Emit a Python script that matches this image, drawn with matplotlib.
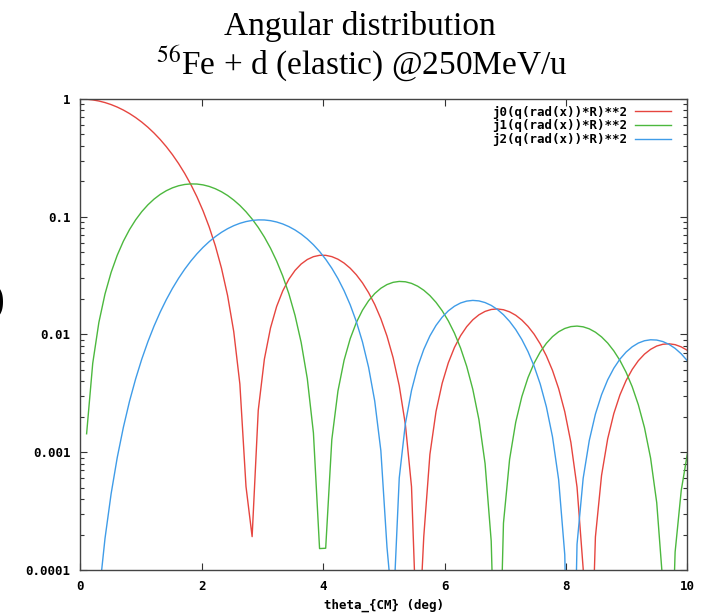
import numpy as np
import matplotlib
matplotlib.use("Agg")
import matplotlib.pyplot as plt
from matplotlib.ticker import LogLocator, NullFormatter, FixedLocator

# --- data (gnuplot, 100 samples over 0..10 deg) ---
theta = np.linspace(0, 10, 100)   # theta_CM (deg), sample grid

j0_sq = [1.0, 0.9957, 0.9829, 0.9618, 0.9328, 0.8967, 0.8540, 0.8057, 0.7526, 0.6958,
         0.6365, 0.5755, 0.5141, 0.4533, 0.3939, 0.3370, 0.2833, 0.2335, 0.1881, 0.1476,
         0.1121, 0.0818, 0.0567, 0.0366, 0.0214, 0.0106, 0.0038, 0.000512, 0.000192, 0.00227,
         0.00618, 0.01137, 0.01730, 0.02348, 0.02951, 0.03501, 0.03969, 0.04333, 0.04581, 0.04704,
         0.04704, 0.04585, 0.04360, 0.04044, 0.03655, 0.03215, 0.02745, 0.02266, 0.01799, 0.01361,
         0.00969, 0.00635, 0.00367, 0.00172, 0.00051, 1.65e-5, 0.000192, 0.000958, 0.00222, 0.00385,
         0.00574, 0.00775, 0.00976, 0.01165, 0.01333, 0.01470, 0.01571, 0.01631, 0.01648, 0.01623,
         0.01557, 0.01457, 0.01326, 0.01173, 0.01006, 0.00831, 0.00658, 0.00495, 0.00347, 0.00221,
         0.00121, 0.000506, 0.000103, 3.95e-6, 0.000191, 0.000636, 0.00130, 0.00213, 0.00307, 0.00406,
         0.00505, 0.00599, 0.00681, 0.00748, 0.00798, 0.00826, 0.00834, 0.00820, 0.00785, 0.00733]

j1_sq = [0.0, 0.001435, 0.005694, 0.01265, 0.02208, 0.03370, 0.04714, 0.06201, 0.07784, 0.09416,
         0.1105, 0.1263, 0.1412, 0.1547, 0.1664, 0.1760, 0.1833, 0.1880, 0.1901, 0.1896,
         0.1865, 0.1809, 0.1730, 0.1631, 0.1516, 0.1386, 0.1248, 0.1103, 0.09563, 0.08114,
         0.06718, 0.05405, 0.04203, 0.03134, 0.02213, 0.01452, 0.00856, 0.00422, 0.00146, 0.000152,
         0.000153, 0.00128, 0.00331, 0.00604, 0.00922, 0.01264, 0.01608, 0.01935, 0.02227, 0.02470,
         0.02655, 0.02774, 0.02823, 0.02804, 0.02718, 0.02573, 0.02377, 0.02140, 0.01874, 0.01592,
         0.01306, 0.01028, 0.00768, 0.00537, 0.00342, 0.00189, 0.000801, 0.000176, 2.2e-6, 0.000250,
         0.000871, 0.00180, 0.00297, 0.00430, 0.00571, 0.00711, 0.00842, 0.00959, 0.01055, 0.01125,
         0.01167, 0.01179, 0.01162, 0.01117, 0.01046, 0.00954, 0.00846, 0.00726, 0.00602, 0.00478,
         0.00360, 0.00253, 0.00162, 0.000892, 0.000373, 7.68e-5, 2.9e-6, 0.000142, 0.000474, 0.000970]

j2_sq = [0.0, 7.4e-7, 1.18e-5, 5.93e-5, 0.000185, 0.000444, 0.000903, 0.00163, 0.00271, 0.00420,
         0.00618, 0.00869, 0.01179, 0.01548, 0.01976, 0.02462, 0.03000, 0.03584, 0.04203, 0.04846,
         0.05500, 0.06150, 0.06780, 0.07375, 0.07919, 0.08397, 0.08795, 0.09101, 0.09307, 0.09404,
         0.09390, 0.09263, 0.09026, 0.08684, 0.08245, 0.07722, 0.07127, 0.06476, 0.05785, 0.05073,
         0.04356, 0.03654, 0.02982, 0.02355, 0.01786, 0.01287, 0.00865, 0.00526, 0.00272, 0.00103,
         0.000156, 4.15e-5, 0.000605, 0.00175, 0.00335, 0.00531, 0.00747, 0.00973, 0.01195, 0.01403,
         0.01587, 0.01738, 0.01852, 0.01922, 0.01948, 0.01929, 0.01867, 0.01767, 0.01633, 0.01472,
         0.01292, 0.01101, 0.00906, 0.00716, 0.00538, 0.00379, 0.00243, 0.00135, 0.000585, 0.000135,
         6.1e-7, 0.000165, 0.000600, 0.00126, 0.00211, 0.00308, 0.00412, 0.00517, 0.00618, 0.00709,
         0.00786, 0.00846, 0.00885, 0.00902, 0.00897, 0.00871, 0.00825, 0.00762, 0.00685, 0.00598]

labels = ["j0(q(rad(x))*R)**2", "j1(q(rad(x))*R)**2", "j2(q(rad(x))*R)**2"]
colors = ["#e6453f", "#4cb83e", "#3f9ce8"]

x_ticks = [0, 2, 4, 6, 8, 10]
y_ticks = [0.0001, 0.001, 0.01, 0.1, 1]
y_ticklabels = ["0.0001", "0.001", "0.01", "0.1", "1"]

# --- figure ---
plt.rcParams["mathtext.fontset"] = "stix"
mono = {"family": "DejaVu Sans Mono", "weight": "bold", "size": 9}

fig = plt.figure(figsize=(7.09, 6.15), dpi=100)
ax = fig.add_axes([0.1135, 0.0732, 0.856, 0.7658])

for y, lab, col in zip([j0_sq, j1_sq, j2_sq], labels, colors):
    yy = np.where(np.asarray(y) > 0, y, np.nan)
    ax.plot(theta, yy, color=col, lw=1.0, label=lab)

ax.set_yscale("log")
ax.set_xlim(0, 10)
ax.set_ylim(0.0001, 1)

ax.xaxis.set_major_locator(FixedLocator(x_ticks))
ax.set_xticklabels([str(t) for t in x_ticks], fontdict=mono)
ax.yaxis.set_major_locator(FixedLocator(y_ticks))
ax.set_yticklabels(y_ticklabels, fontdict=mono)
ax.yaxis.set_minor_locator(LogLocator(base=10, subs=np.arange(2, 10)))
ax.yaxis.set_minor_formatter(NullFormatter())

ax.tick_params(which="both", direction="in", top=True, right=True, color="#333333", width=0.8)
ax.tick_params(which="major", length=5, pad=7)
ax.tick_params(which="minor", length=3)
for sp in ax.spines.values():
    sp.set_color("#444444")
    sp.set_linewidth(1.0)

ax.set_xlabel("theta_{CM} (deg)", fontdict=mono, labelpad=4)

leg = ax.legend(loc="upper right", bbox_to_anchor=(0.985, 1.002), frameon=False,
                markerfirst=False, prop=mono, handlelength=2.9, handletextpad=0.6,
                labelspacing=0.06, borderaxespad=0.2)

# title (two lines, Times-like)
fig.text(0.508, 0.957, "Angular distribution", ha="center", va="center",
         family="Liberation Serif", fontsize=24)
fig.text(0.51, 0.896, r"$^{56}$Fe + d (elastic) @250MeV/u", ha="center", va="center",
         family="Liberation Serif", fontsize=24)

# cropped y-axis label remnant at the left edge
fig.text(0.006, 0.51, ")", ha="right", va="center", family="Liberation Serif",
         fontsize=30)

fig.savefig("out.png", dpi=100)
